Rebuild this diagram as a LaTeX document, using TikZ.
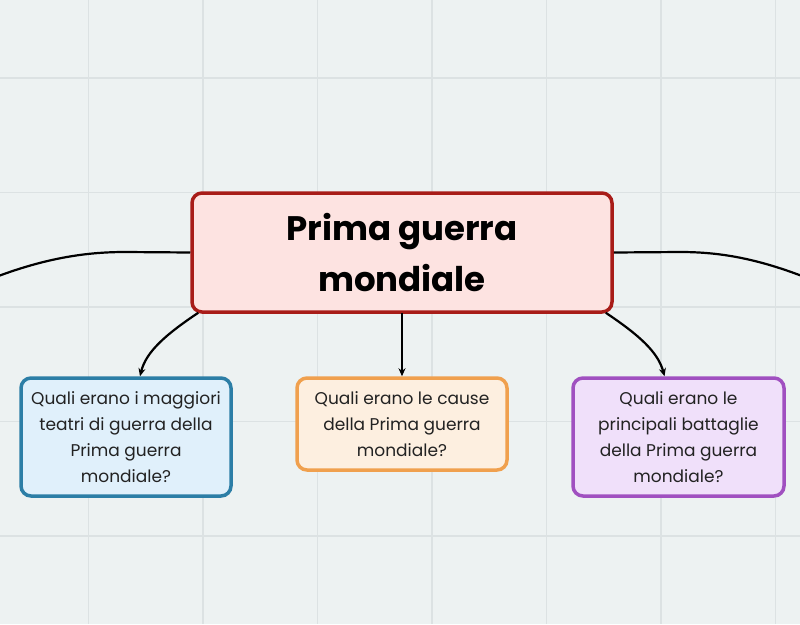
\documentclass[tikz,border=0pt]{standalone}
\usepackage{fontspec}
\setmainfont{Poppins}
\usetikzlibrary{arrows.meta}
\definecolor{bgc}{RGB}{237,242,242}
\definecolor{gridc}{RGB}{220,226,227}
\definecolor{rootline}{RGB}{168,28,24}
\definecolor{rootfill}{RGB}{253,227,225}
\definecolor{blueline}{RGB}{44,126,166}
\definecolor{bluefill}{RGB}{224,240,251}
\definecolor{orangeline}{RGB}{240,160,78}
\definecolor{orangefill}{RGB}{253,239,224}
\definecolor{purpleline}{RGB}{160,80,192}
\definecolor{purplefill}{RGB}{240,224,250}
\definecolor{txt}{RGB}{34,34,34}
\tikzset{
  qbox/.style={draw, rounded corners=10pt, line width=3.5pt, align=center,
    inner sep=0pt, font=\fontsize{17}{26}\selectfont, text=txt},
  conn/.style={line width=2.2pt, black},
  arr/.style={conn, -{Stealth[length=8pt,width=7pt]}},
}
\begin{document}
\begin{tikzpicture}[x=1pt,y=-1pt]
\useasboundingbox (0,0) rectangle (800,624);
\fill[bgc] (0,0) rectangle (800,624);
\foreach \gx in {88.5,203,317.5,432,546.5,661,775.5}
  \draw[gridc, line width=1.5pt] (\gx,0) -- (\gx,624);
\foreach \gy in {78,192.5,307,421.5,536}
  \draw[gridc, line width=1.5pt] (0,\gy) -- (800,\gy);
\clip (0,0) rectangle (800,624);

\node[qbox, draw=rootline, fill=rootfill, minimum width=420pt, minimum height=119pt,
  font=\fontsize{34}{51}\selectfont\bfseries, text=black] (root) at (402,252.5)
  {Prima guerra\\mondiale};
\node[qbox, draw=blueline, fill=bluefill, minimum width=210pt, minimum height=118pt] (teatri) at (126,437)
  {Quali erano i maggiori\\teatri di guerra della\\Prima guerra\\mondiale?};
\node[qbox, draw=orangeline, fill=orangefill, minimum width=210pt, minimum height=92pt] (cause) at (402,424)
  {Quali erano le cause\\della Prima guerra\\mondiale?};
\node[qbox, draw=purpleline, fill=purplefill, minimum width=211pt, minimum height=118pt] (battaglie) at (678.5,437)
  {Quali erano le\\principali battaglie\\della Prima guerra\\mondiale?};

\coordinate (leftend) at (-40,292);
\coordinate (rightend) at (840,292);

\draw[conn] (root.west) -- (125,252) .. controls (80,252) and (30,260) .. (leftend);
\draw[conn] (root.east) -- (680,252) .. controls (725,252) and (770,260) .. (rightend);
\draw[arr] ([xshift=8pt,yshift=1pt]root.south west) .. controls (165,335) and (146,352) .. ([xshift=14pt]teatri.north);
\draw[arr] ([yshift=1pt]root.south) -- (cause.north);
\draw[arr] ([xshift=-8pt,yshift=1pt]root.south east) .. controls (639,335) and (658,352) .. ([xshift=-14pt]battaglie.north);
\end{tikzpicture}
\end{document}
